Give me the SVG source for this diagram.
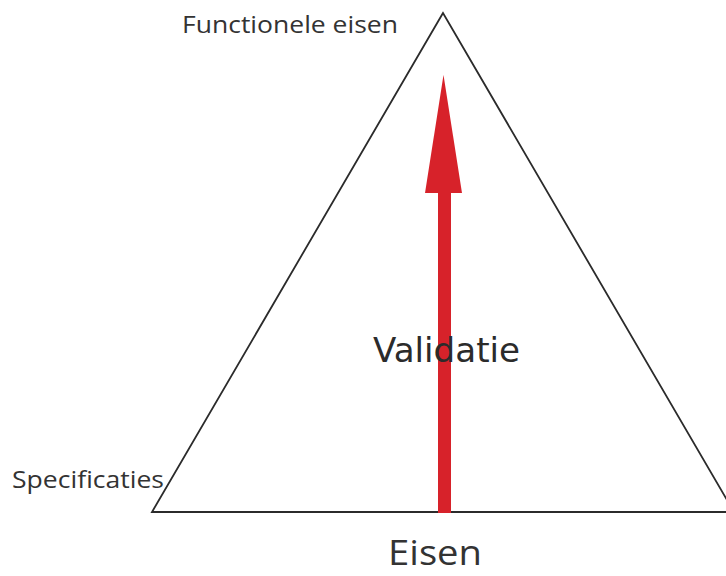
<svg xmlns="http://www.w3.org/2000/svg" width="726" height="576" viewBox="0 0 726 576">
<style>
.lbl{font-family:"Open Sans","Liberation Sans",sans-serif;fill:#333333}
.big{font-family:"DejaVu Sans","Open Sans",sans-serif;fill:#2b2b2b}
</style>
<rect width="726" height="576" fill="#ffffff"/>
<g id="triangle">
<polygon points="443,13 152,512 734,512" fill="none" stroke="#2b2b2b" stroke-width="1.8" stroke-linejoin="miter"/>
</g>
<g id="connectors">
<g id="validatie-arrow">
<rect x="438" y="190" width="13" height="323" fill="#d7222a"/>
<polygon points="443.5,75 425,193 462,193" fill="#d7222a"/>
</g>
</g>
<g id="labels">
<text class="lbl" x="182" y="33" font-size="24" textLength="216" lengthAdjust="spacingAndGlyphs">Functionele eisen</text>
<text class="lbl" x="12" y="488" font-size="24" textLength="152" lengthAdjust="spacingAndGlyphs">Specificaties</text>
<text class="big" x="373" y="362" font-size="33" textLength="147" lengthAdjust="spacingAndGlyphs">Validatie</text>
<text class="lbl" x="388" y="565" font-size="34" textLength="94" lengthAdjust="spacingAndGlyphs">Eisen</text>
</g>
</svg>
